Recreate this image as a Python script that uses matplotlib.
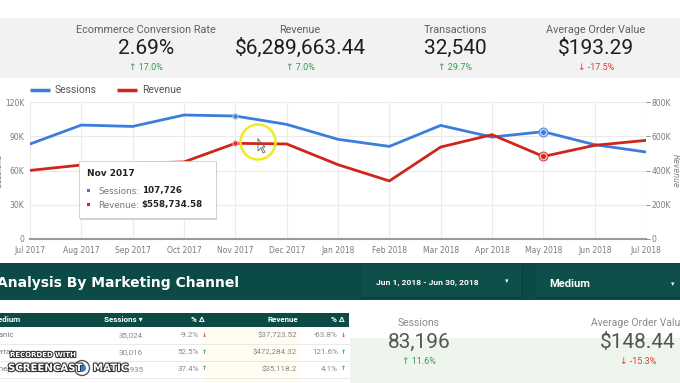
import matplotlib
matplotlib.use("Agg")
import matplotlib.pyplot as plt
from matplotlib.patches import Rectangle, Circle
import matplotlib.patheffects as pe

# ---------------- data ----------------
months = ["Jul 2017", "Aug 2017", "Sep 2017", "Oct 2017", "Nov 2017", "Dec 2017",
          "Jan 2018", "Feb 2018", "Mar 2018", "Apr 2018", "May 2018", "Jun 2018", "Jul 2018"]
sessions = [83200, 99800, 98600, 108600, 107726, 100400, 87300, 81100, 99500, 89300, 94000, 82600, 76200]
revenue = [400600, 432000, 442000, 450000, 558734.58, 555000, 434000, 339000, 537000, 609000, 482000, 547000, 576000]

kpi_titles = ["Ecommerce Conversion Rate", "Revenue", "Transactions", "Average Order Value"]
kpi_values = ["2.69%", "$6,289,663.44", "32,540", "$193.29"]
kpi_deltas = ["17.0%", "7.0%", "29.7%", "-17.5%"]
kpi_up = [True, True, True, False]

left_ticks = [0, 30000, 60000, 90000, 120000]
left_tick_labels = ["0", "30K", "60K", "90K", "120K"]
right_ticks = [0, 200000, 400000, 600000, 800000]
right_tick_labels = ["0", "200K", "400K", "600K", "800K"]

table_header = ["Medium", "Sessions \u25BE", "% \u0394", "Revenue", "% \u0394"]
table_medium = ["organic", "referral", "(none)"]
table_sessions = ["35,024", "30,016", "13,935"]
table_sess_delta = ["-9.2%", "52.5%", "37.4%"]
table_sess_up = [False, True, True]
table_revenue = ["$37,723.52", "$472,284.32", "$35,118.2"]
table_rev_delta = ["-63.8%", "121.6%", "4.1%"]
table_rev_up = [False, True, True]

sc_titles = ["Sessions", "Average Order Value"]
sc_values = ["83,196", "$148.44"]
sc_deltas = ["11.6%", "-15.3%"]
sc_up = [True, False]

# ---------------- style ----------------
W, H = 680, 383
BLUE = "#3b7ddd"
RED = "#d0251b"
GREEN_BAND = "#0c4a45"
UPC = "#3a9a50"
DNC = "#e53935"
GRID = "#ebebeb"
TICKC = "#7a7a7a"
SANS = ["Roboto", "DejaVu Sans"]

fig = plt.figure(figsize=(W / 100, H / 100), dpi=100)
fig.patch.set_facecolor("white")

bg = fig.add_axes([0, 0, 1, 1], zorder=0)
bg.set_xlim(0, W)
bg.set_ylim(H, 0)
bg.axis("off")

# KPI band
bg.add_patch(Rectangle((0, 18), W, 60, color="#f2f2f2", lw=0))
kpi_x = [146, 300, 455, 596]
for x, t, v, d, up in zip(kpi_x, kpi_titles, kpi_values, kpi_deltas, kpi_up):
    bg.text(x, 30, t, ha="center", va="center", fontsize=7.8, color="#606060", family=SANS)
    bg.text(x, 48, v, ha="center", va="center", fontsize=15, color="#1e1e1e", family=SANS)
    bg.text(x, 68, ("\u2191 " if up else "\u2193 ") + d, ha="center", va="center",
            fontsize=6.5, color=UPC if up else DNC, family=SANS)

# legend
bg.plot([30, 50], [90, 90], color=BLUE, lw=2.5, solid_capstyle="butt")
bg.text(55, 90, "Sessions", va="center", fontsize=7.5, color="#555555", family=SANS)
bg.plot([117, 137], [90, 90], color=RED, lw=2.5, solid_capstyle="butt")
bg.text(142, 90, "Revenue", va="center", fontsize=7.5, color="#555555", family=SANS)

# green banner
bg.add_patch(Rectangle((0, 263), W, 37, color=GREEN_BAND, lw=0))
bg.text(-3, 283, "Analysis By Marketing Channel", va="center", ha="left",
        fontsize=10, fontweight="bold", color="white", family=["DejaVu Sans"])
for (x0, x1) in [(362, 522), (536, 682)]:
    bg.add_patch(Rectangle((x0 + 1, 266), x1 - x0, 32, color="#083a36", lw=0))
    bg.add_patch(Rectangle((x0, 265), x1 - x0, 32, color="#0f4f4a", lw=0))
bg.text(376, 282, "Jun 1, 2018 - Jun 30, 2018", va="center", fontsize=6.1,
        color="white", fontweight="bold", family=SANS)
bg.text(507, 281, "\u25BE", va="center", ha="center", fontsize=5, color="white")
bg.text(549, 284, "Medium", va="center", fontsize=8, color="white", fontweight="bold", family=SANS)
bg.text(673, 284, "\u25BE", va="center", ha="center", fontsize=5, color="white")

# table
bg.add_patch(Rectangle((205, 326), 95, 57, color="#fffdf2", lw=0))
bg.add_patch(Rectangle((0, 313), 349, 14, color=GREEN_BAND, lw=0))
hx = [-9, 143, 205, 298, 345]
has = ["left", "right", "right", "right", "right"]
for x, t, a in zip(hx, table_header, has):
    bg.text(x, 320, t, ha=a, va="center", fontsize=5.8, color="white", fontweight="bold", family=SANS)
row_y = [335, 352, 369]
for i, y in enumerate(row_y):
    bg.plot([0, 349], [y + 9, y + 9], color="#e6e6e6", lw=0.6)
    bg.text(-12, y, table_medium[i], va="center", fontsize=5.8, color="#777777", family=SANS)
    bg.text(143, y, table_sessions[i], ha="right", va="center", fontsize=5.8, color="#888888", family=SANS)
    bg.text(199, y, table_sess_delta[i], ha="right", va="center", fontsize=5.8, color="#888888", family=SANS)
    bg.text(204, y, "\u2191" if table_sess_up[i] else "\u2193", ha="center", va="center", fontsize=4.5,
            color=UPC if table_sess_up[i] else DNC, fontweight="bold")
    bg.text(297, y, table_revenue[i], ha="right", va="center", fontsize=5.8, color="#888888", family=SANS)
    bg.text(338, y, table_rev_delta[i], ha="right", va="center", fontsize=5.8, color="#888888", family=SANS)
    bg.text(343, y, "\u2191" if table_rev_up[i] else "\u2193", ha="center", va="center", fontsize=4.5,
            color=UPC if table_rev_up[i] else DNC, fontweight="bold")

# bottom-right scorecards
bg.add_patch(Rectangle((350, 338), 330, 45, color="#eef5ec", lw=0))
sc_x = [419, 638]
for x, t, v, d, up in zip(sc_x, sc_titles, sc_values, sc_deltas, sc_up):
    bg.text(x, 323, t, ha="center", va="center", fontsize=7.5, color="#8a8a8a", family=SANS)
    bg.text(x, 342, v, ha="center", va="center", fontsize=15, color="#555555", family=SANS)
    bg.text(x, 361, ("\u2191 " if up else "\u2193 ") + d, ha="center", va="center",
            fontsize=6.5, color=UPC if up else DNC, family=SANS)

# ---------------- main chart ----------------
L, R, T, B = 30, 646, 102, 239
ax = fig.add_axes([L / W, 1 - B / H, (R - L) / W, (B - T) / H], zorder=2)
ax.patch.set_alpha(0)
x = list(range(len(months)))
ax.plot(x, sessions, color=BLUE, lw=2, zorder=3)
ax.set_ylim(0, 120000)
ax.set_xlim(0, len(months) - 1)
ax.set_yticks(left_ticks)
ax.set_yticklabels(left_tick_labels)
ax.set_xticks(x)
ax.set_xticklabels(months)
ax.grid(True, color=GRID, lw=0.8)
for s in ["top", "left", "right"]:
    ax.spines[s].set_visible(False)
ax.spines["bottom"].set_color("#9a9a9a")
ax.spines["bottom"].set_linewidth(1.5)
ax.tick_params(axis="both", labelsize=5.5, colors=TICKC, length=0, pad=4)
ax.tick_params(axis="x", pad=5)
ax.set_ylabel("Sessions", fontsize=5.5, color=TICKC, style="italic")
ax.yaxis.set_label_coords(-0.043, 0.5)

ax2 = ax.twinx()
ax2.plot(x, revenue, color=RED, lw=2, zorder=3)
ax2.set_ylim(0, 800000)
ax2.set_yticks(right_ticks)
ax2.set_yticklabels(right_tick_labels)
for s in ["top", "left", "right", "bottom"]:
    ax2.spines[s].set_visible(False)
ax2.tick_params(axis="y", labelsize=5.5, colors=TICKC, length=3, width=0.6, pad=1)
ax2.set_ylabel("Revenue", fontsize=5.5, color=TICKC, rotation=270, labelpad=6, style="italic")

# highlighted points
nov = months.index("Nov 2017")
may = months.index("May 2018")
ax.plot([nov], [sessions[nov]], "o", ms=3.5, color=BLUE, mec="#9ab8ea", mew=1, zorder=4)
ax.plot([may], [sessions[may]], "o", ms=6.5, mfc="#b8cdf3", mec=BLUE, mew=0.6, zorder=4)
ax.plot([may], [sessions[may]], "o", ms=2.5, color=BLUE, zorder=5)
ax2.plot([nov], [revenue[nov]], "o", ms=3.5, color=RED, mec="#e69a95", mew=1, zorder=4)
ax2.plot([may], [revenue[may]], "o", ms=6.5, mfc="#f0b7b3", mec=RED, mew=0.6, zorder=4)
ax2.plot([may], [revenue[may]], "o", ms=2.5, color=RED, zorder=5)

# ---------------- overlay (tooltip, cursor highlight, watermark) ----------------
ov = fig.add_axes([0, 0, 1, 1], zorder=5)
ov.set_xlim(0, W)
ov.set_ylim(H, 0)
ov.axis("off")
ov.patch.set_alpha(0)
ov.add_patch(Rectangle((80, 162), 137, 58, color="#d5d5d5", lw=0))
ov.add_patch(Rectangle((79, 161), 137, 57, facecolor="white", edgecolor="#cccccc", lw=0.6))
ov.text(87, 174, months[nov], va="center", fontsize=6.5, fontweight="bold", color="#222222")
ov.add_patch(Rectangle((87, 189), 3, 3, color=BLUE, lw=0))
ov.text(98, 191, "Sessions:", va="center", fontsize=6.3, color="#777777")
ov.text(142, 191, f"{sessions[nov]:,}", va="center", fontsize=6.3, color="#222222", fontweight="bold")
ov.add_patch(Rectangle((87, 203), 3, 3, color=RED, lw=0))
ov.text(98, 205, "Revenue:", va="center", fontsize=6.3, color="#777777")
ov.text(141, 205, f"${revenue[nov]:,.2f}", va="center", fontsize=6.3, color="#222222", fontweight="bold")

ov.add_patch(Circle((258, 142), 17.5, facecolor="none", edgecolor="#f2ea20", lw=1.8))
ov.plot([258, 258, 261, 263, 265, 262, 265, 258], [139, 151, 148, 153, 152, 147, 147, 139],
        color="#666666", lw=0.6)

stroke = [pe.withStroke(linewidth=1.6, foreground="#333333")]
ov.text(10, 355, "RECORDED WITH", fontsize=5, color="white", fontweight="bold",
        va="center", path_effects=stroke)
ov.text(8, 368, "SCREENCAST", fontsize=7.3, color="white", fontweight="bold",
        va="center", path_effects=stroke)
ov.add_patch(Circle((82, 368), 7.5, facecolor="white", edgecolor="#555555", lw=1))
ov.add_patch(Circle((82, 368), 4, facecolor="#2a7fd0", edgecolor="none"))
ov.text(93, 368, "MATIC", fontsize=7.3, color="white", fontweight="bold",
        va="center", path_effects=stroke)

fig.savefig("out.png", dpi=100)
